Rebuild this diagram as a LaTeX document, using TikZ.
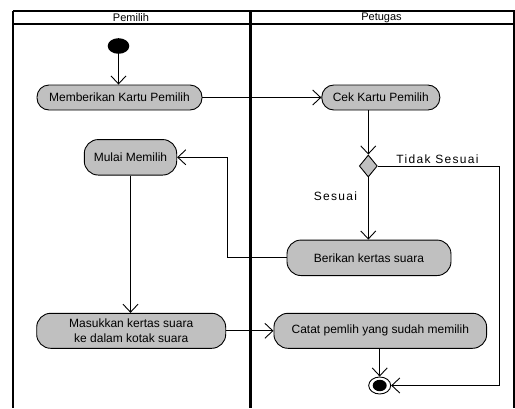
\documentclass[tikz,border=0pt]{standalone}
\usepackage{fontspec}
\setmainfont{Liberation Sans}
\newfontfamily\lblfont[LetterSpace=11]{Liberation Sans}
\usetikzlibrary{arrows.meta,shapes.geometric}
\definecolor{actgray}{RGB}{192,192,192}
\begin{document}
\begin{tikzpicture}[x=1pt,y=-1pt,
  act/.style={draw=black,line width=0.9pt,fill=actgray,rounded corners=12pt,
    minimum height=25pt,inner sep=0pt,align=center,font=\fontsize{12}{15}\selectfont},
  flow/.style={line width=0.9pt,-{Straight Barb[length=8pt,width=15pt,line width=0.9pt]}},
  lane/.style={line width=2pt},
  hdr/.style={font=\fontsize{11}{13}\selectfont,inner sep=0pt},
  lbl/.style={font=\lblfont\fontsize{12}{14}\selectfont,inner sep=0pt}]
\useasboundingbox (0,0) rectangle (515,408);
\fill[white] (0,0) rectangle (515,408);
% swimlane frame
\coordinate (tl) at (12.8,10.8);
\coordinate (tr) at (515,10.8);
\coordinate (bl) at (12.8,408);
\coordinate (mt) at (250,10.8);
\coordinate (mb) at (250,408);
\coordinate (rt) at (514,10.8);
\coordinate (rb) at (514,408);
\draw[line width=1.5pt] (tl) -- (tr);
\draw[lane] (tl) -- (bl);
\draw[lane] (12.8,24.3) -- (515,24.3);
\draw[line width=3pt] (mt) -- (mb);
\draw[line width=1.2pt] (rt) -- (rb);
\node[hdr] (h1) at (131,17.6) {Pemilih};
\node[hdr] (h2) at (381.5,17.6) {Petugas};
% nodes
\node[ellipse,fill=black,minimum width=21.6pt,minimum height=15.6pt,inner sep=0pt] (start) at (118.5,46) {};
\node[act,minimum width=165pt] (memb) at (119.5,97.5) {Memberikan Kartu Pemilih};
\node[act,minimum width=118pt] (cek) at (380.8,97.5) {Cek Kartu Pemilih};
\node[diamond,draw=black,line width=0.9pt,fill=actgray,minimum width=18pt,minimum height=22pt,inner sep=0pt] (dia) at (368.3,166) {};
\node[act,minimum width=92.4pt,minimum height=35.5pt,rounded corners=14pt] (mul) at (130.5,157.3) {Mulai Memilih};
\node[act,minimum width=164pt,minimum height=35.5pt,rounded corners=14pt] (ber) at (369,257.8) {Berikan kertas suara};
\node[act,minimum width=189pt,minimum height=35pt,rounded corners=14pt] (mas) at (131.2,330.8) {Masukkan kertas suara\\ke dalam kotak suara};
\node[act,minimum width=212.7pt,minimum height=35pt,rounded corners=14pt] (cat) at (380.3,330.8) {Catat pemlih yang sudah memilih};
\node[ellipse,draw=black,line width=0.9pt,fill=white,minimum width=22pt,minimum height=17pt,inner sep=0pt] (fin) at (379.7,385.5) {};
\node[ellipse,fill=black,minimum width=14pt,minimum height=11.4pt,inner sep=0pt] (finin) at (379.7,385.5) {};
\node[lbl] (ltid) at (437.5,159) {Tidak Sesuai};
\node[lbl] (lses) at (335.5,196) {Sesuai};
% helper coordinates
\coordinate (rx) at (499.3,0);
\coordinate (lk) at (227,0);
% connectors
\draw[flow] (start.south) -- (start.south |- memb.north);
\draw[flow] (memb.east) -- (cek.west);
\draw[flow] (cek.south -| dia.north) -- (dia.north);
\draw[flow] (dia.south) -- (dia.south |- ber.north);
\draw[flow] (dia.east) -- (dia.east -| rx) -- (rx |- fin.east) -- (fin.east);
\draw[flow] (ber.west) -- (ber.west -| lk) -- (lk |- mul.east) -- (mul.east);
\draw[flow] (mul.south) -- (mul.south |- mas.north);
\draw[flow] (mas.east) -- (mas.east -| cat.west);
\draw[flow] (cat.south -| fin.north) -- (fin.north);
\end{tikzpicture}
\end{document}
